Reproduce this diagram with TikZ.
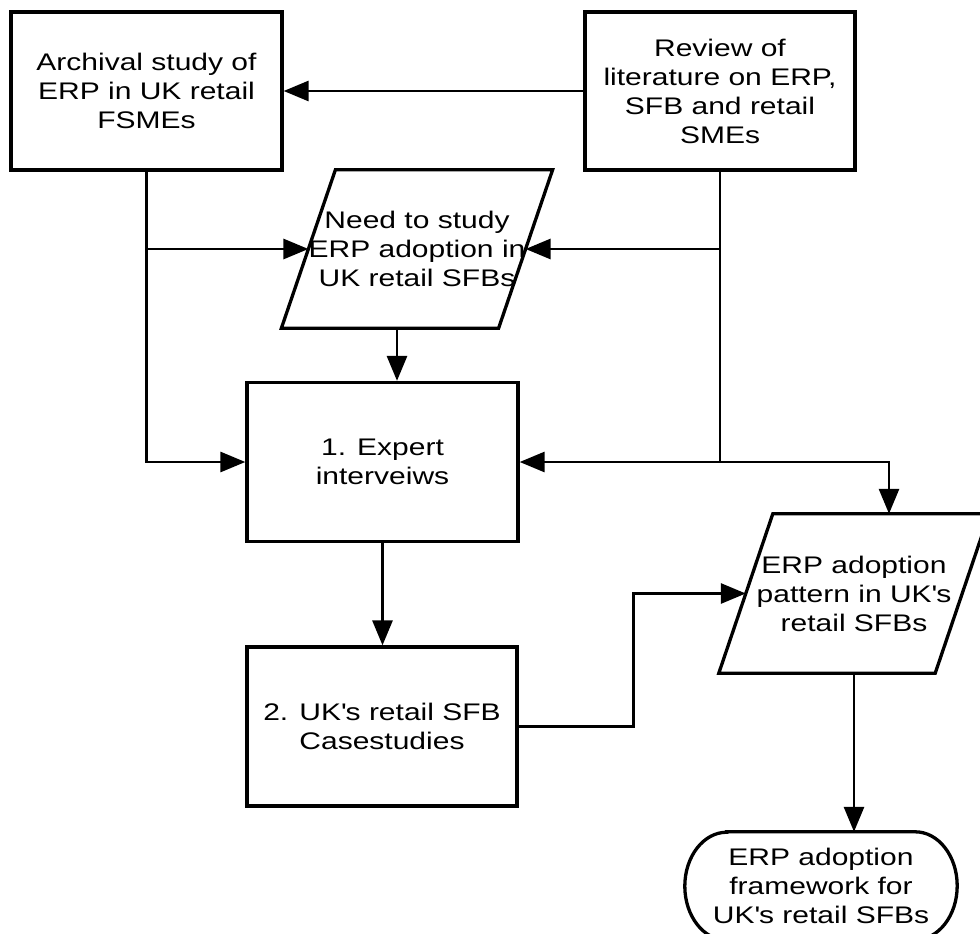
\documentclass[tikz,border=0pt]{standalone}
\usepackage{fontspec}
\setmainfont{Liberation Sans}[FakeStretch=1.25]
\usetikzlibrary{arrows.meta,calc}
\begin{document}
\begin{tikzpicture}[x=1pt,y=-1pt,
  every node/.style={font=\fontsize{24}{29}\selectfont, align=center, inner sep=0pt},
  stepbox/.style={draw, line width=3.3pt, minimum width=271pt, minimum height=158pt},
  ioshape/.style={minimum width=216pt, minimum height=158pt},
  outline/.style={line width=3.3pt, line join=miter},
  link/.style={line width=2.9pt},
  arr/.style={link, -{Triangle[length=25pt,width=20pt]}}
]
\useasboundingbox (0,0) rectangle (980,934);
\clip (0,0) rectangle (980,934);

% process boxes
\node[stepbox] (A) at (146.5,91) {Archival study of\\ERP in UK retail\\FSMEs};
\node[stepbox, minimum width=270pt] (B) at (720,91) {Review of\\literature on ERP,\\SFB and retail\\SMEs};
\node[stepbox, minimum height=159pt] (D) at (382.5,462) {1. Expert\\interveiws};
\node[stepbox, minimum width=270pt, minimum height=159pt] (E) at (382,726.5) {2. UK\textquotesingle s retail SFB\\Casestudies};

% data (parallelogram) shapes
\node[ioshape] (C) at (417,249) {Need to study\\ERP adoption in\\UK retail SFBs};
\node[ioshape, minimum height=159pt] (F) at (854,593.5) {ERP adoption\\pattern in UK\textquotesingle s\\retail SFBs};
\draw[outline] ([xshift=27pt]C.north west) -- ([xshift=27pt]C.north east)
  -- ([xshift=-27pt]C.south east) -- ([xshift=-27pt]C.south west) -- cycle;
\draw[outline] ([xshift=27pt]F.north west) -- ([xshift=27pt]F.north east)
  -- ([xshift=-27pt]F.south east) -- ([xshift=-27pt]F.south west) -- cycle;

% terminal
\node[minimum width=272pt, minimum height=108pt] (G) at (821,886) {ERP adoption\\framework for\\UK\textquotesingle s retail SFBs};
\draw[outline] ([xshift=42pt]G.north west) -- ([xshift=-42pt]G.north east)
  arc[start angle=90, end angle=-90, x radius=42pt, y radius=54pt]
  -- ([xshift=42pt]G.south west)
  arc[start angle=270, end angle=90, x radius=42pt, y radius=54pt] -- cycle;

% connectors
\draw[arr] (B.west) -- (A.east);
\draw[arr] (A.south) |- (D.west);
\draw[arr] (A.south |- C.west) -- (C.west);
\draw[arr] (B.south) |- (D.east);
\draw[arr] (B.south |- C.east) -- (C.east);
\draw[arr] (B.south |- D.east) -| ([xshift=35pt]F.north);
\draw[arr] ([xshift=-20pt]C.south) -- ([xshift=-20pt]C.south |- D.north);
\draw[arr] (D.south) -- (D.south |- E.north);
\draw[arr] (E.east) -- ++(115,0) |- (F.west);
\draw[arr] (F.south) -- (F.south |- G.north);
\end{tikzpicture}
\end{document}
